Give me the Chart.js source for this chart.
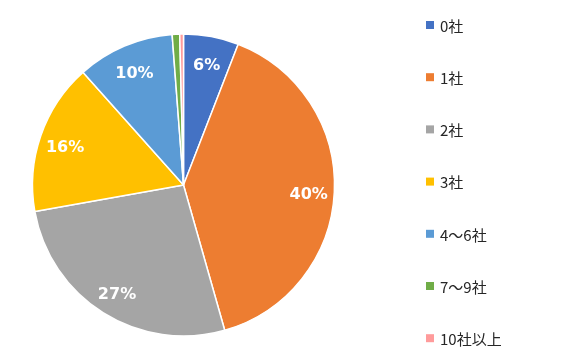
<!DOCTYPE html>
<html lang="ja">
<head>
    <meta charset="UTF-8">
    <title>社数の内訳</title>
    <script src="https://cdn.jsdelivr.net/npm/chart.js"></script>
    <style>
        html, body { margin: 0; padding: 0; background: #fff; }
        #wrap { width: 586px; height: 361px; position: relative; }
    </style>
</head>
<body>
    <div id="wrap"><canvas id="pieChart"></canvas></div>

    <script>
        // data (percent)
        const categories = ['0社', '1社', '2社', '3社', '4～6社', '7～9社', '10社以上'];
        const shares = [5.9, 39.7, 26.6, 16.2, 10.4, 0.8, 0.4];
        const pctLabels = ['6%', '40%', '27%', '16%', '10%', '', ''];
        const colors = ['#4472C4', '#ED7D31', '#A5A5A5', '#FFC000', '#5B9BD5', '#70AD47', '#FF9B9B'];

        // white % labels inside slices
        const sliceLabels = {
            id: 'sliceLabels',
            afterDatasetsDraw(chart) {
                const ctx = chart.ctx;
                const meta = chart.getDatasetMeta(0);
                ctx.save();
                ctx.fillStyle = '#fff';
                ctx.font = 'bold 16px "DejaVu Sans"';
                ctx.textAlign = 'center';
                ctx.textBaseline = 'middle';
                meta.data.forEach((arc, i) => {
                    if (!pctLabels[i]) return;
                    const mid = (arc.startAngle + arc.endAngle) / 2;
                    const r = arc.outerRadius * 0.83;
                    // excel puts them a touch lower than the exact mid point
                    ctx.fillText(pctLabels[i], arc.x + Math.cos(mid) * r, arc.y + Math.sin(mid) * r + 4);
                });
                ctx.restore();
            }
        };

        // legend on the right, spaced like the original
        const sideLegend = {
            id: 'sideLegend',
            afterDraw(chart) {
                const ctx = chart.ctx;
                ctx.save();
                ctx.font = '15px "Noto Sans CJK JP"';
                ctx.textBaseline = 'middle';
                chart.data.labels.forEach((lab, i) => {
                    const y = 25 + i * 52.2;
                    ctx.fillStyle = colors[i];
                    ctx.fillRect(426, y - 4, 8, 8);
                    ctx.fillStyle = '#262626';
                    ctx.fillText(lab, 440, y + 1);
                });
                ctx.restore();
            }
        };

        new Chart(document.getElementById('pieChart'), {
            type: 'pie',
            data: {
                labels: categories,
                datasets: [{
                    data: shares,
                    backgroundColor: colors,
                    borderColor: '#fff',
                    borderWidth: 1.5
                }]
            },
            options: {
                responsive: true,
                maintainAspectRatio: false,
                animation: false,
                radius: 151,
                layout: { padding: { left: 32, right: 251, top: 34, bottom: 25 } },
                plugins: {
                    legend: { display: false },
                    tooltip: { enabled: false }
                }
            },
            plugins: [sliceLabels, sideLegend]
        });
    </script>
</body>
</html>
